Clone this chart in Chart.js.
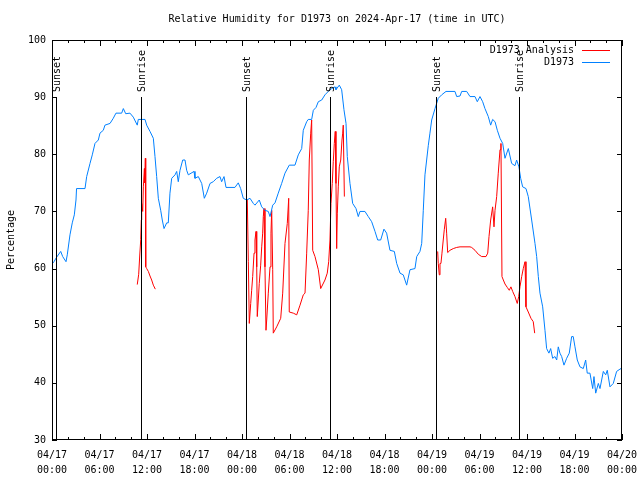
<!DOCTYPE html>
<html lang="en">
<head>
<meta charset="UTF-8">
<title>Relative Humidity for D1973</title>
<style>
  body { margin: 0; background: #fff; }
</style>
</head>
<body>
<canvas id="grafico" width="640" height="480"></canvas>
<script src="https://cdn.jsdelivr.net/npm/chart.js"></script>
<script>
// horas desde 04/17 00:00 UTC
const blueHours = [0, 0.25, 0.59, 1.10, 1.35, 1.77, 1.93, 2.27, 2.56, 2.82, 3.03, 3.10, 4.17, 4.38, 4.80, 5.09, 5.43, 5.85, 6.06, 6.48, 6.69, 7.33, 7.74, 8.08, 8.80, 9.01, 9.31, 9.85, 10.27, 10.77, 10.90, 11.75, 11.96, 12.38, 12.80, 13.01, 13.22, 13.43, 13.73, 13.93, 14.15, 14.49, 14.69, 14.90, 15.12, 15.54, 15.75, 15.95, 16.17, 16.51, 16.80, 17.01, 17.22, 17.94, 18.06, 18.48, 18.91, 19.24, 19.54, 19.96, 20.37, 20.80, 21.22, 21.43, 21.73, 21.98, 23.11, 23.53, 23.83, 24.16, 24.59, 25.01, 25.43, 25.64, 26.18, 26.49, 26.90, 27.32, 27.54, 27.88, 28.17, 28.58, 29.01, 29.43, 29.97, 30.69, 31.11, 31.54, 31.74, 32.17, 32.37, 32.80, 33.01, 33.35, 33.64, 34.07, 34.48, 34.90, 35.33, 35.75, 35.87, 36.29, 36.59, 36.88, 37.14, 37.30, 37.64, 37.98, 38.40, 38.69, 38.90, 39.53, 39.95, 40.38, 40.80, 41.14, 41.52, 41.93, 42.27, 42.69, 43.24, 43.54, 43.96, 44.37, 44.80, 45.22, 45.85, 46.07, 46.48, 46.70, 46.90, 47.11, 47.53, 47.74, 47.96, 48.38, 48.79, 49.22, 49.77, 50.90, 51.12, 51.54, 51.75, 52.38, 52.80, 53.43, 53.72, 54.06, 54.40, 54.69, 55.11, 55.41, 55.66, 55.96, 56.25, 56.59, 56.93, 57.22, 57.64, 58.06, 58.48, 58.69, 58.98, 59.20, 59.45, 59.87, 60.16, 60.59, 61.01, 61.22, 61.43, 61.64, 61.98, 62.27, 62.48, 62.77, 62.99, 63.24, 63.53, 63.75, 63.95, 64.16, 64.38, 64.67, 65.01, 65.34, 65.64, 65.84, 66.06, 66.35, 66.69, 67.11, 67.41, 67.61, 67.95, 68.30, 68.46, 68.68, 69.01, 69.22, 69.64, 69.94, 70.14, 70.48, 70.90, 71.32, 71.74, 72];
const blueValues = [60.8, 61.2, 62.0, 63.0, 62.1, 61.2, 62.4, 65.9, 68.0, 69.4, 72.0, 74.0, 74.0, 76.1, 78.4, 79.9, 81.9, 82.5, 83.7, 84.2, 85.1, 85.4, 86.3, 87.2, 87.2, 88.0, 87.1, 87.2, 86.5, 85.1, 86.1, 86.1, 85.1, 84.0, 82.8, 79.6, 76.1, 72.3, 70.2, 68.5, 67.0, 68.0, 68.0, 73.2, 75.8, 76.4, 77.0, 75.2, 77.2, 79.0, 79.0, 77.2, 76.4, 77.0, 75.8, 76.1, 74.9, 72.3, 73.2, 74.9, 75.2, 75.8, 76.1, 75.2, 76.1, 74.2, 74.2, 75.0, 74.0, 72.3, 72.0, 72.3, 71.4, 71.1, 72.0, 70.8, 70.2, 70.0, 69.1, 71.1, 71.5, 73.2, 74.9, 76.7, 78.1, 78.1, 79.9, 81.0, 84.2, 85.7, 86.1, 86.1, 87.7, 88.2, 89.2, 89.5, 90.4, 91.0, 91.5, 91.8, 91.3, 92.1, 91.3, 87.8, 85.4, 79.6, 74.9, 71.4, 70.5, 69.1, 70.0, 70.0, 69.1, 68.2, 66.5, 65.0, 65.0, 66.9, 66.2, 63.2, 63.0, 60.9, 59.2, 58.9, 57.1, 59.8, 60.0, 62.1, 63.0, 64.4, 70.2, 76.4, 81.5, 83.7, 86.0, 88.0, 89.8, 90.4, 91.0, 91.0, 90.1, 90.2, 91.0, 91.0, 90.1, 90.1, 89.2, 90.1, 89.2, 88.0, 86.6, 85.1, 86.1, 85.7, 84.2, 82.8, 81.9, 79.3, 81.0, 78.4, 78.0, 79.0, 77.8, 75.8, 74.3, 74.0, 72.6, 68.5, 64.4, 62.1, 58.6, 55.7, 53.3, 49.2, 46.0, 45.2, 46.0, 44.3, 44.6, 44.0, 46.3, 45.2, 44.6, 43.1, 44.3, 45.2, 48.1, 48.1, 46.3, 44.0, 42.8, 42.5, 44.0, 41.7, 41.7, 39.0, 41.1, 38.2, 39.9, 39.0, 42.0, 41.4, 42.2, 39.3, 39.9, 42.0, 42.4, 42.6];

// null separa os trechos da analise
const redHours = [10.77, 10.95, 11.08, 11.21, 11.28, 11.33, 11.46, 11.54, 11.67, 11.72, 11.79, 11.84, 11.96, 12.17, 12.38, 12.59, 12.80, 13.05,
  18.0,
  24.67, 24.80, 24.92, 25.10, 25.22, 25.35, 25.52, 25.64, 25.77, 25.86, 25.93, 26.06, 26.18, 26.36, 26.49, 26.61, 26.69, 26.78, 26.90, 27.03, 27.12, 27.32, 27.54, 27.66, 27.75, 27.88, 27.95, 28.38, 28.89, 29.14, 29.43, 29.72, 29.90, 29.97, 30.48, 30.91, 31.33, 31.74, 31.96, 32.17, 32.37, 32.50, 32.68, 32.80, 32.93, 33.22, 33.64, 33.94, 34.48, 34.77, 34.95, 35.11, 35.24, 35.40, 35.53, 35.66, 35.78, 35.87, 35.96, 36.04, 36.16, 36.29, 36.47, 36.63, 36.72, 36.79, 36.93,
  42.0,
  48.72, 48.79, 48.92, 49.01, 49.13, 49.26, 49.42, 49.55, 49.73, 49.85, 49.98, 50.27, 50.69, 51.12, 51.54, 52.17, 52.80, 53.01, 53.43, 53.85, 54.28, 54.82, 55.04, 55.20, 55.41, 55.66, 55.83, 55.96, 56.17, 56.37, 56.59, 56.71, 56.84, 57.01, 57.22, 57.51, 57.76, 57.97, 58.19, 58.48, 58.77, 58.95, 59.11, 59.33, 59.53, 59.75, 59.87, 60.16, 60.50, 60.79, 60.97];
const redValues = [57.2, 59.0, 62.2, 65.1, 68.5, 71.4, 70.0, 74.3, 77.5, 75.0, 79.3, 60.3, 60.0, 59.5, 58.7, 58.0, 57.1, 56.4,
  null,
  72.0, 61.2, 50.4, 53.9, 56.2, 58.6, 62.7, 65.0, 66.5, 60.3, 51.6, 54.5, 57.4, 60.6, 63.8, 66.2, 69.1, 70.5, 60.3, 49.2, 51.0, 55.7, 60.3, 66.2, 70.2, 59.8, 48.7, 49.8, 51.3, 55.7, 64.4, 67.9, 72.3, 52.4, 52.2, 51.9, 53.6, 55.4, 55.7, 62.7, 70.2, 79.0, 83.7, 86.0, 63.2, 62.1, 59.8, 56.5, 58.0, 59.2, 61.2, 65.0, 71.4, 74.9, 78.7, 81.9, 84.0, 74.9, 63.5, 69.7, 74.3, 77.8, 79.0, 82.5, 83.7, 85.1, 72.6,
  null,
  63.0, 60.9, 58.9, 60.9, 60.9, 62.7, 65.0, 66.8, 68.8, 66.2, 62.8, 63.2, 63.5, 63.7, 63.8, 63.8, 63.8, 63.7, 63.2, 62.5, 62.1, 62.1, 62.7, 65.6, 68.5, 70.8, 67.3, 70.2, 72.6, 76.7, 80.8, 81.9, 58.6, 58.0, 57.3, 56.7, 56.2, 56.8, 56.0, 55.1, 53.9, 55.1, 56.8, 58.6, 60.0, 61.2, 53.3, 52.4, 51.3, 50.7, 48.7];

const eventNames = ['Sunset', 'Sunrise', 'Sunset', 'Sunrise', 'Sunset', 'Sunrise'];
const eventHours = [0.5, 11.2, 24.5, 35.15, 48.5, 59.05];
const eventTop = 90;

const xTickLabels = [
  ['04/17', '00:00'], ['04/17', '06:00'], ['04/17', '12:00'], ['04/17', '18:00'],
  ['04/18', '00:00'], ['04/18', '06:00'], ['04/18', '12:00'], ['04/18', '18:00'],
  ['04/19', '00:00'], ['04/19', '06:00'], ['04/19', '12:00'], ['04/19', '18:00'],
  ['04/20', '00:00']
];

const fonte = { family: 'DejaVu Sans Mono', size: 10, lineHeight: 1.5 };

const moldura = {
  id: 'moldura',
  afterDatasetsDraw(chart) {
    const { ctx, chartArea: a, scales: { x, y } } = chart;
    ctx.save();
    ctx.strokeStyle = '#000';
    ctx.fillStyle = '#000';
    ctx.lineWidth = 1;
    ctx.font = '10px "DejaVu Sans Mono"';

    // linhas de por/nascer do sol
    eventHours.forEach((h, i) => {
      const px = Math.round(x.getPixelForValue(h)) + 0.5;
      const topo = Math.round(y.getPixelForValue(eventTop));
      ctx.beginPath();
      ctx.moveTo(px, topo);
      ctx.lineTo(px, a.bottom);
      ctx.stroke();
      ctx.save();
      ctx.translate(px + 1, topo - 5);
      ctx.rotate(-Math.PI / 2);
      ctx.textAlign = 'left';
      ctx.textBaseline = 'middle';
      ctx.fillText(eventNames[i], 0, 0);
      ctx.restore();
    });

    // borda
    ctx.strokeRect(a.left + 0.5, a.top + 0.5, a.right - a.left - 1, a.bottom - a.top - 1);

    // marcas do eixo y
    for (let v = 30; v <= 100; v += 10) {
      const py = Math.round(y.getPixelForValue(v)) + 0.5;
      ctx.beginPath();
      ctx.moveTo(a.left, py); ctx.lineTo(a.left + 5, py);
      ctx.moveTo(a.right, py); ctx.lineTo(a.right - 5, py);
      ctx.stroke();
    }
    // marcas do eixo x
    for (let h = 0; h <= 72; h += 2) {
      const px = Math.round(x.getPixelForValue(h)) + 0.5;
      const len = h % 6 === 0 ? 6 : 3;
      ctx.beginPath();
      ctx.moveTo(px, a.bottom); ctx.lineTo(px, a.bottom - len);
      ctx.moveTo(px, a.top); ctx.lineTo(px, a.top + len);
      ctx.stroke();
    }

    // legenda
    chart.data.datasets.forEach((ds, i) => {
      const ly = a.top + 10 + i * 12;
      ctx.textAlign = 'right';
      ctx.textBaseline = 'middle';
      ctx.fillStyle = '#000';
      ctx.fillText(ds.label, a.right - 48, ly);
      ctx.strokeStyle = ds.borderColor;
      ctx.beginPath();
      ctx.moveTo(a.right - 40, ly + 0.5);
      ctx.lineTo(a.right - 12, ly + 0.5);
      ctx.stroke();
    });

    // titulos
    ctx.fillStyle = '#000';
    ctx.textAlign = 'center';
    ctx.textBaseline = 'middle';
    ctx.fillText('Relative Humidity for D1973 on 2024-Apr-17 (time in UTC)', (a.left + a.right) / 2, 19);
    ctx.save();
    ctx.translate(11, (a.top + a.bottom) / 2);
    ctx.rotate(-Math.PI / 2);
    ctx.fillText('Percentage', 0, 0);
    ctx.restore();
    ctx.restore();
  }
};

new Chart(document.getElementById('grafico'), {
  type: 'line',
  data: {
    datasets: [
      {
        label: 'D1973 Analysis',
        data: redHours.map((h, i) => ({ x: h, y: redValues[i] })),
        borderColor: '#ff0000',
        borderWidth: 1,
        pointRadius: 0,
        spanGaps: false,
        order: 1
      },
      {
        label: 'D1973',
        data: blueHours.map((h, i) => ({ x: h, y: blueValues[i] })),
        borderColor: '#0080ff',
        borderWidth: 1,
        pointRadius: 0,
        order: 0
      }
    ]
  },
  options: {
    responsive: false,
    animation: false,
    devicePixelRatio: 1,
    layout: { padding: { top: 40, right: 18, left: 0, bottom: 0 } },
    plugins: {
      legend: { display: false },
      title: { display: false },
      tooltip: { enabled: false }
    },
    scales: {
      x: {
        type: 'linear',
        min: 0,
        max: 72,
        grid: { display: false, drawTicks: false },
        border: { display: false },
        ticks: {
          stepSize: 6,
          autoSkip: false,
          maxRotation: 0,
          padding: 8,
          color: '#000',
          font: fonte,
          callback: (v) => xTickLabels[Math.round(v / 6)]
        },
        afterFit: (s) => { s.height = 40; s.paddingLeft = 0; s.paddingRight = 0; }
      },
      y: {
        min: 30,
        max: 100,
        grid: { display: false, drawTicks: false },
        border: { display: false },
        ticks: { stepSize: 10, padding: 6, color: '#000', font: fonte },
        afterFit: (s) => { s.width = 52; s.paddingTop = 0; s.paddingBottom = 0; }
      }
    }
  },
  plugins: [moldura]
});
</script>
</body>
</html>
